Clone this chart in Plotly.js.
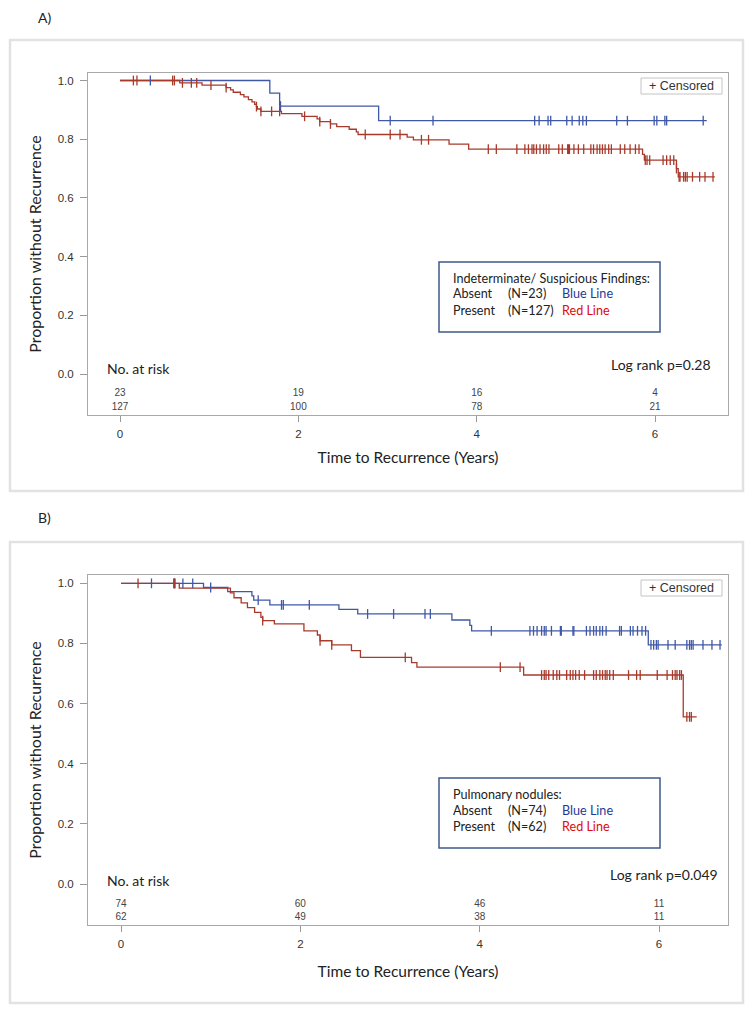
<!DOCTYPE html>
<html>
<head>
<meta charset="utf-8">
<script src="https://cdn.plot.ly/plotly-3.0.1.min.js"></script>
<style>html,body{margin:0;padding:0;background:#fff;}#chart{width:753px;height:1014px;}</style>
</head>
<body>
<div id="chart"></div>
<script>
// ---------------- DATA ----------------
// Panel A: Indeterminate / Suspicious findings
const aBlueEventT = [1.68, 1.79, 2.90];
const aBlueEventS = [0.957, 0.913, 0.863];
const aBlueCensT = [0.34, 1.80, 3.03, 3.51, 4.65, 4.70, 4.80, 4.83, 5.01, 5.07, 5.15, 5.19, 5.23, 5.57, 5.69, 5.99, 6.02, 6.11, 6.13, 6.54];
const aBlueEnd = 6.58;

const aRedEventT = [0.67, 0.92, 1.19, 1.24, 1.27, 1.35, 1.39, 1.44, 1.48, 1.51, 1.53, 1.54, 1.58, 1.81, 2.04, 2.21, 2.24, 2.36, 2.43, 2.57, 2.65, 2.67, 3.22, 3.29, 3.69, 3.91, 5.86, 5.88, 6.24, 6.26];
const aRedEventS = [0.992, 0.984, 0.976, 0.968, 0.960, 0.952, 0.944, 0.935, 0.927, 0.919, 0.911, 0.903, 0.895, 0.887, 0.878, 0.869, 0.860, 0.852, 0.843, 0.834, 0.825, 0.816, 0.807, 0.798, 0.783, 0.766, 0.748, 0.729, 0.700, 0.672];
const aRedCensT = [0.15, 0.19, 0.59, 0.61, 0.70, 0.80, 0.86, 1.02, 1.19, 1.53, 1.58, 1.70, 1.79, 2.07, 2.24, 2.36, 2.75, 3.03, 3.14, 3.38, 3.46, 4.13, 4.22, 4.45, 4.54, 4.58, 4.62, 4.64, 4.67, 4.71, 4.75, 4.78, 4.81, 4.92, 4.96, 5.02, 5.03, 5.04, 5.09, 5.14, 5.20, 5.28, 5.31, 5.35, 5.38, 5.41, 5.44, 5.48, 5.51, 5.61, 5.66, 5.72, 5.78, 5.82, 5.89, 5.91, 5.94, 6.09, 6.13, 6.17, 6.21, 6.24, 6.27, 6.28, 6.32, 6.34, 6.36, 6.42, 6.50, 6.56, 6.65];
const aRedEnd = 6.67;

// Panel B: Pulmonary nodules
const bBlueEventT = [0.92, 1.19, 1.46, 1.48, 1.66, 2.43, 2.64, 3.69, 3.89, 3.91, 5.88];
const bBlueEventS = [0.986, 0.972, 0.958, 0.944, 0.928, 0.913, 0.898, 0.878, 0.860, 0.842, 0.795];
const bBlueCensT = [0.34, 0.59, 0.60, 0.69, 0.80, 1.00, 1.53, 1.79, 1.81, 2.10, 2.75, 3.04, 3.39, 3.45, 4.13, 4.56, 4.60, 4.64, 4.69, 4.72, 4.74, 4.80, 4.90, 4.91, 5.04, 5.05, 5.19, 5.23, 5.27, 5.30, 5.34, 5.37, 5.41, 5.56, 5.58, 5.68, 5.71, 5.76, 5.81, 5.85, 5.91, 5.94, 5.97, 5.99, 6.10, 6.18, 6.31, 6.34, 6.36, 6.38, 6.49, 6.59, 6.68];
const bBlueEnd = 6.70;

const bRedEventT = [0.65, 1.22, 1.26, 1.34, 1.41, 1.49, 1.56, 1.58, 1.71, 2.04, 2.19, 2.22, 2.35, 2.57, 2.67, 3.24, 3.30, 4.49, 6.27];
const bRedEventS = [0.984, 0.968, 0.952, 0.935, 0.919, 0.903, 0.887, 0.876, 0.865, 0.842, 0.828, 0.809, 0.795, 0.776, 0.754, 0.736, 0.721, 0.695, 0.556];
const bRedCensT = [0.19, 0.59, 0.60, 1.58, 2.22, 2.35, 3.17, 4.23, 4.45, 4.69, 4.72, 4.74, 4.77, 4.82, 4.86, 4.89, 4.97, 5.01, 5.04, 5.07, 5.11, 5.17, 5.27, 5.30, 5.34, 5.37, 5.40, 5.42, 5.45, 5.49, 5.66, 5.75, 5.79, 5.98, 6.09, 6.15, 6.18, 6.20, 6.23, 6.25, 6.31, 6.34, 6.36];
const bRedEnd = 6.42;

// Number at risk
const riskTimes = [0, 2, 4, 6];
const aRiskAbsent = [23, 19, 16, 4];
const aRiskPresent = [127, 100, 78, 21];
const bRiskAbsent = [74, 60, 46, 11];
const bRiskPresent = [62, 49, 38, 11];

// Axis ticks
const xTicks = [0, 2, 4, 6];
const yTicks = [0, 0.2, 0.4, 0.6, 0.8, 1.0];

// Text
const aLegendTitle = 'Indeterminate/ Suspicious Findings:';
const bLegendTitle = 'Pulmonary nodules:';
const groupNames = ['Absent', 'Present'];
const aGroupN = ['(N=23)', '(N=127)'];
const bGroupN = ['(N=74)', '(N=62)'];
const lineNames = ['Blue Line', 'Red Line'];
const aPText = 'Log rank p=0.28';
const bPText = 'Log rank p=0.049';

// ---------------- STYLE / LAYOUT ----------------
const W = 753, H = 1014;
const BLUE = '#3f58a8', RED = '#a83a2c';
const px = v => v / W;
const py = v => 1 - v / H;

function stepXY(T, S, end) {
  const x = [0].concat(T, [end]);
  const y = [1].concat(S, [S[S.length - 1]]);
  return {x, y};
}
function survAt(T, S, t) {
  let s = 1;
  for (let i = 0; i < T.length; i++) { if (T[i] <= t + 1e-9) s = S[i]; }
  return s;
}
function curve(T, S, end, color, xa, ya, w) {
  const d = stepXY(T, S, end);
  return {x: d.x, y: d.y, xaxis: xa, yaxis: ya, type: 'scatter', mode: 'lines',
    line: {shape: 'hv', color: color, width: w}, hoverinfo: 'skip', showlegend: false};
}
function cens(C, T, S, color, xa, ya) {
  return {x: C, y: C.map(t => survAt(T, S, t)), xaxis: xa, yaxis: ya, type: 'scatter', mode: 'markers',
    marker: {symbol: 'line-ns', size: 7, color: color, line: {color: color, width: 1.3}},
    hoverinfo: 'skip', showlegend: false};
}
function riskRow(vals, yv, xa, ya) {
  return {x: riskTimes, y: riskTimes.map(() => yv), text: vals.map(String), xaxis: xa, yaxis: ya,
    type: 'scatter', mode: 'text', textposition: 'middle center',
    textfont: {family: 'Liberation Sans, Arial, sans-serif', size: 10, color: '#444'},
    hoverinfo: 'skip', showlegend: false};
}

const traces = [
  curve(aBlueEventT, aBlueEventS, aBlueEnd, BLUE, 'x', 'y', 1.3),
  curve(aRedEventT, aRedEventS, aRedEnd, RED, 'x', 'y', 1.3),
  cens(aBlueCensT, aBlueEventT, aBlueEventS, BLUE, 'x', 'y'),
  cens(aRedCensT, aRedEventT, aRedEventS, RED, 'x', 'y'),
  riskRow(aRiskAbsent, -0.068, 'x', 'y'),
  riskRow(aRiskPresent, -0.115, 'x', 'y'),
  curve(bBlueEventT, bBlueEventS, bBlueEnd, BLUE, 'x2', 'y2', 1.3),
  curve(bRedEventT, bRedEventS, bRedEnd, RED, 'x2', 'y2', 1.3),
  cens(bBlueCensT, bBlueEventT, bBlueEventS, BLUE, 'x2', 'y2'),
  cens(bRedCensT, bRedEventT, bRedEventS, RED, 'x2', 'y2'),
  riskRow(bRiskAbsent, -0.0665, 'x2', 'y2'),
  riskRow(bRiskPresent, -0.113, 'x2', 'y2')
];

const tickFont = {family: 'Liberation Sans, Arial, sans-serif', size: 11.5, color: '#333'};
const titleFont = {family: 'Lato, sans-serif', size: 16, color: '#222'};
const xTitleFont = {family: 'Lato, sans-serif', size: 15.5, color: '#222'};
function xAxis(dom, rng, anchor, standoff) {
  return {domain: dom, range: rng, anchor: anchor, tickvals: xTicks, ticks: 'outside', ticklen: 6,
    tickcolor: '#999', tickwidth: 1, showline: true, mirror: true, linecolor: '#a8a8a8', linewidth: 1,
    zeroline: false, showgrid: false, tickfont: tickFont, fixedrange: true, ticklabelstandoff: 2,
    title: {text: 'Time to Recurrence (Years)', font: xTitleFont, standoff: standoff}};
}
function yAxis(dom, rng, anchor) {
  return {domain: dom, range: rng, anchor: anchor, tickvals: yTicks, tickformat: '.1f', ticks: 'outside', ticklen: 7,
    tickcolor: '#999', tickwidth: 1, showline: true, mirror: true, linecolor: '#a8a8a8', linewidth: 1,
    zeroline: false, showgrid: false, tickfont: tickFont, fixedrange: true, ticklabelstandoff: 4,
    title: {text: 'Proportion without Recurrence', font: titleFont, standoff: 12}};
}

const plotL = px(88), plotR = px(728);
const layout = {
  width: W, height: H, margin: {l: 0, r: 0, t: 0, b: 0, pad: 0},
  paper_bgcolor: '#fff', plot_bgcolor: '#fff', showlegend: false,
  xaxis: xAxis([plotL, plotR], [-0.359, 6.818], 'y', 13),
  yaxis: yAxis([py(415), py(73)], [-0.1397, 1.0256], 'x'),
  xaxis2: xAxis([plotL, plotR], [-0.368, 6.769], 'y2', 17),
  yaxis2: yAxis([py(925), py(575)], [-0.1363, 1.0276], 'x2'),
  shapes: [],
  annotations: []
};

const S = layout.shapes, A = layout.annotations;
function rect(x0, y0, x1, y1, color, w) {
  S.push({type: 'rect', xref: 'paper', yref: 'paper', x0: px(x0), x1: px(x1), y0: py(y0), y1: py(y1),
    line: {color: color, width: w}, fillcolor: 'rgba(0,0,0,0)', layer: 'above'});
}
function txt(t, x, y, anchor, font) {
  A.push({text: t, x: px(x), y: py(y), xref: 'paper', yref: 'paper', xanchor: anchor, yanchor: 'middle',
    showarrow: false, font: font});
}
const calib = (sz, col) => ({family: 'Lato, sans-serif', size: sz, color: col || '#222'});
const arial = (sz, col) => ({family: 'Liberation Sans, Arial, sans-serif', size: sz, color: col || '#333'});

// outer frames
rect(10, 40, 743, 491, '#e2e2e2', 2.5);
rect(10, 542, 743, 1003, '#e2e2e2', 2.5);
txt('A)', 36, 18, 'left', calib(14));
txt('B)', 36, 517, 'left', calib(14));

function panelDecor(off, legTop, legTitle, ns, pText, pRight, pY, noY) {
  // censored box
  rect(641, 78 + off, 722, 94 + off, '#c4c4c4', 1);
  txt('+ Censored', 681.5, 86 + off, 'center', arial(12.5, '#333'));
  // legend box
  rect(439, legTop, 660, legTop + 70, '#3f5a8c', 1.5);
  txt(legTitle, 451, legTop + 16, 'left', calib(12.6));
  for (let i = 0; i < 2; i++) {
    const yy = legTop + 32 + i * 16.5;
    txt(groupNames[i], 451, yy, 'left', calib(12.6));
    txt(ns[i], 506, yy, 'left', calib(12.6));
    txt(lineNames[i], 560, yy, 'left', calib(12.6, i === 0 ? '#1f3a96' : '#dd0a0a'));
  }
  txt('No. at risk', 105, noY, 'left', calib(14));
  txt(pText, pRight, pY, 'right', calib(14));
}
panelDecor(0, 262, aLegendTitle, aGroupN, aPText, 713, 364, 369);
panelDecor(502, 778, bLegendTitle, bGroupN, bPText, 720, 874, 880);

Plotly.newPlot('chart', traces, layout, {staticPlot: true, displayModeBar: false});
</script>
</body>
</html>
